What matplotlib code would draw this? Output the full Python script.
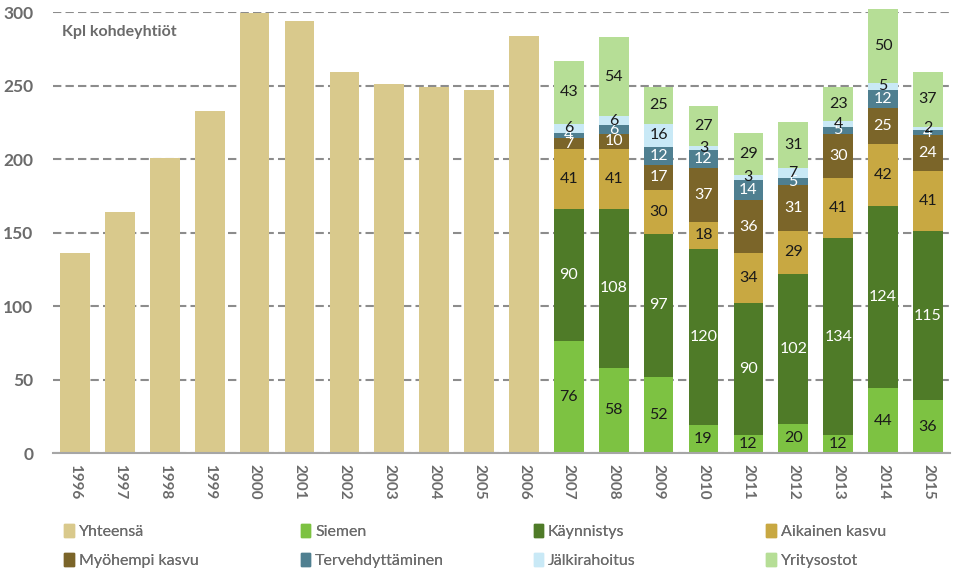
import matplotlib.pyplot as plt
import numpy as np
from matplotlib.patches import Patch

plt.rcParams['font.family'] = ['Lato', 'DejaVu Sans']

years_total = [str(y) for y in range(1996, 2007)]
totals = [136, 164, 201, 233, 299, 294, 259, 251, 249, 247, 284]

years_stack = [str(y) for y in range(2007, 2016)]
series_names = ['Siemen', 'Käynnistys', 'Aikainen kasvu', 'Myöhempi kasvu',
                'Tervehdyttäminen', 'Jälkirahoitus', 'Yritysostot']
siemen = [76, 58, 52, 19, 12, 20, 12, 44, 36]
kaynnistys = [90, 108, 97, 120, 90, 102, 134, 124, 115]
aikainen = [41, 41, 30, 18, 34, 29, 41, 42, 41]
myohempi = [7, 10, 17, 37, 36, 31, 30, 25, 24]
tervehd = [4, 6, 12, 12, 14, 5, 5, 12, 4]
jalki = [6, 6, 16, 3, 3, 7, 4, 5, 2]
yritys = [43, 54, 25, 27, 29, 31, 23, 50, 37]

series = [siemen, kaynnistys, aikainen, myohempi, tervehd, jalki, yritys]
colors = ['#7DC242', '#4F7B28', '#C8A842', '#7B6529', '#4F7F90', '#C9E9F6', '#B6DE96']
label_colors = ['#1a1a1a', 'white', '#1a1a1a', 'white', 'white', '#1a1a1a', '#1a1a1a']
total_color = '#D9C98C'
grey = '#6b6b6b'

fig = plt.figure(figsize=(9.58, 5.72), dpi=100)
ax = fig.add_axes([0.055, 0.208, 0.937, 0.771])

all_years = years_total + years_stack
x = np.arange(len(all_years))
w = 0.66

ax.bar(x[:len(totals)], totals, w, color=total_color, zorder=2, clip_on=False)

xs = x[len(totals):]
bottom = np.zeros(len(years_stack))
for vals, c, lc in zip(series, colors, label_colors):
    vals = np.array(vals)
    ax.bar(xs, vals, w, bottom=bottom, color=c, zorder=2, clip_on=False)
    for xi, b, v in zip(xs, bottom, vals):
        ax.text(xi, b + v / 2, str(v), ha='center', va='center',
                fontsize=11.5, color=lc, zorder=3)
    bottom += vals

ax.set_xlim(-0.5, len(all_years) - 0.5)
ax.set_ylim(0, 300)
ax.set_yticks(range(0, 301, 50))
ax.yaxis.grid(True, linestyle=(0, (4, 2)), color='#8c8c8c', linewidth=1.5, zorder=0)
ax.set_axisbelow(True)

ax.set_xticks(x)
ax.set_xticklabels(all_years, rotation=-90, fontsize=11, fontweight='bold', color=grey)
ax.tick_params(axis='x', length=0, pad=8)
ax.tick_params(axis='y', length=0, labelsize=12.5, labelcolor=grey, pad=14)
for lbl in ax.get_yticklabels():
    lbl.set_fontweight('bold')

for s in ['top', 'right', 'left']:
    ax.spines[s].set_visible(False)
ax.spines['bottom'].set_color('#a6a6a6')
ax.spines['bottom'].set_linewidth(1.5)

ax.text(0.01, 0.955, 'Kpl kohdeyhtiöt', transform=ax.transAxes, fontsize=11.5,
        fontweight='bold', color=grey, va='center', ha='left')

# legend: 2 rows x 4 columns, filled row by row
handles = [Patch(color=total_color, label='Yhteensä')]
handles += [Patch(color=c, label=n) for c, n in zip(colors, series_names)]
col_x = [0.052, 0.299, 0.542, 0.785]
for i, cx in enumerate(col_x):
    leg = fig.legend(handles=[handles[i], handles[i + 4]], loc='lower left',
                     bbox_to_anchor=(cx, -0.018), ncol=1, frameon=False, fontsize=11.5,
                     handlelength=0.6, handleheight=0.9, handletextpad=0.3,
                     labelspacing=0.85, labelcolor=grey)
    fig.add_artist(leg)

fig.savefig('out.png', dpi=100)
